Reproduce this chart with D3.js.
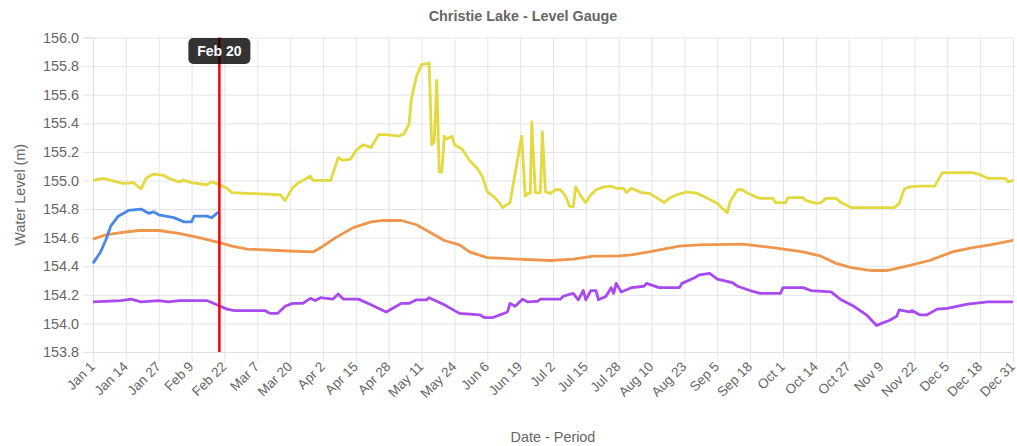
<!DOCTYPE html>
<html>
<head>
<meta charset="utf-8">
<script src="https://cdn.jsdelivr.net/npm/d3@7"></script>
<style>
  body { margin: 0; background: #fff; font-family: "Liberation Sans", Arial, sans-serif; }
  .grid line { stroke: #e5e5e5; }
  .grid path { display: none; }
</style>
</head>
<body>
<div id="chart"></div>
<script>
// 目盛りラベル（13日ごと）
var tickLabels = ["Jan 1","Jan 14","Jan 27","Feb 9","Feb 22","Mar 7","Mar 20","Apr 2","Apr 15","Apr 28",
  "May 11","May 24","Jun 6","Jun 19","Jul 2","Jul 15","Jul 28","Aug 10","Aug 23","Sep 5","Sep 18",
  "Oct 1","Oct 14","Oct 27","Nov 9","Nov 22","Dec 5","Dec 18","Dec 31"];
var tickStep = 13;
var levelTicks = [153.8, 154.0, 154.2, 154.4, 154.6, 154.8, 155.0, 155.2, 155.4, 155.6, 155.8, 156.0];

var markerDay = 50;
var markerLabel = "Feb 20";

// 各シリーズ（日番号, 水位）
var blueDay = [0,3,5,7,10,14,19,22,24,26,32,36,39,40,45,47,49,50];
var blueLevel = [154.42,154.50,154.58,154.68,154.75,154.79,154.80,154.77,154.78,154.76,154.74,154.71,154.71,154.75,154.75,154.74,154.77,154.78];

var orangeDay = [0,5,11,18,26,34,42,50,55,61,73,87,91,96,103,110,115,122,128,132,135,139,145,149,156,168,181,190,198,207,213,220,232,240,257,269,281,288,294,300,308,314,322,331,340,348,355,364];
var orangeLevel = [154.59,154.62,154.635,154.65,154.65,154.63,154.60,154.565,154.54,154.52,154.51,154.50,154.54,154.60,154.67,154.71,154.72,154.72,154.69,154.65,154.62,154.58,154.55,154.50,154.46,154.45,154.44,154.45,154.47,154.47,154.48,154.50,154.54,154.55,154.555,154.53,154.50,154.47,154.42,154.39,154.37,154.37,154.40,154.44,154.50,154.53,154.55,154.58];

var purpleDay = [0,11,15,19,26,30,34,45,49,53,56,68,70,73,76,79,83,86,88,90,95,97,99,105,110,116,120,122,125,128,132,133,139,142,145,153,155,158,161,164,165,167,170,172,176,177,185,186,190,192,194,195,197,199,200,203,205,206,207,209,213,218,219,224,232,233,238,240,244,247,253,255,260,264,272,273,281,284,292,296,301,306,310,312,315,318,319,323,324,327,330,334,338,346,354,364];
var purpleLevel = [154.15,154.16,154.17,154.15,154.16,154.15,154.16,154.16,154.13,154.10,154.09,154.09,154.07,154.07,154.12,154.14,154.14,154.175,154.16,154.18,154.17,154.205,154.17,154.17,154.13,154.08,154.12,154.14,154.14,154.165,154.165,154.18,154.13,154.10,154.07,154.06,154.04,154.04,154.06,154.08,154.14,154.12,154.17,154.15,154.155,154.17,154.17,154.19,154.21,154.165,154.23,154.165,154.23,154.23,154.165,154.19,154.25,154.21,154.28,154.22,154.25,154.26,154.28,154.25,154.25,154.28,154.32,154.34,154.35,154.31,154.285,154.26,154.23,154.21,154.21,154.25,154.25,154.23,154.22,154.165,154.12,154.06,153.985,154.0,154.02,154.05,154.095,154.08,154.09,154.06,154.06,154.10,154.105,154.135,154.15,154.15];

var yellowDay = [0,4,7,12,16,19,21,24,28,30,34,36,39,45,47,50,53,55,61,74,76,79,81,83,86,87,94,97,99,102,104,107,110,113,116,121,123,125,126,128,130,133,134,135,136,137,138,139,140,142,143,146,149,152,154,156,159,161,162,165,169.6,171,172,173,173.6,175,177,177.8,179,181,183,185,187,188.5,190,191,193,195,197,199,202,205,207,210,211,213,217,220,223,226,228,231,235,239,243,247,249,251,252,255,257,259,263,264,269,270,274,275,281,282,286,288,290,294,296,300,317,319,321,323,327,333,336,348,351,354,361,362,364];
var yellowLevel = [155.0,155.015,155.0,154.98,154.985,154.94,155.015,155.045,155.035,155.015,154.99,155.0,154.985,154.97,154.99,154.97,154.945,154.915,154.91,154.90,154.86,154.95,154.98,155.0,155.03,155.0,155.0,155.16,155.14,155.15,155.21,155.25,155.23,155.32,155.32,155.31,155.325,155.39,155.575,155.73,155.81,155.82,155.25,155.27,155.70,155.06,155.06,155.31,155.29,155.31,155.25,155.22,155.14,155.085,155.03,154.92,154.88,154.84,154.81,154.845,155.31,154.89,154.91,154.91,155.41,154.915,154.915,155.34,154.92,154.91,154.935,154.935,154.89,154.82,154.815,154.955,154.89,154.845,154.90,154.935,154.955,154.96,154.945,154.945,154.915,154.945,154.915,154.91,154.88,154.845,154.875,154.90,154.92,154.91,154.875,154.84,154.805,154.775,154.85,154.935,154.935,154.91,154.88,154.875,154.875,154.845,154.845,154.88,154.88,154.86,154.84,154.845,154.875,154.875,154.845,154.81,154.81,154.84,154.94,154.955,154.96,154.96,155.055,155.055,155.04,155.015,155.015,154.99,155.0];

var series = [
  {name: "yellow", day: yellowDay, level: yellowLevel, color: "#e3d940"},
  {name: "orange", day: orangeDay, level: orangeLevel, color: "#f0954c"},
  {name: "purple", day: purpleDay, level: purpleLevel, color: "#a84af0"},
  {name: "blue", day: blueDay, level: blueLevel, color: "#4a87e6"}
];

// 基本設定
var w = 1017, h = 446;
var plotL = 93, plotR = 1013, plotT = 37.5, plotB = 352;
var textColor = "#666";

var svg = d3.select("#chart").append("svg")
  .attr("width", w)
  .attr("height", h);

var x = d3.scaleLinear().domain([0, 364]).range([plotL, plotR]);
var y = d3.scaleLinear().domain([153.8, 156.0]).range([plotB, plotT]);

var tickDays = tickLabels.map(function(d, i) { return i * tickStep; });

// グリッド
svg.append("g")
  .attr("class", "grid")
  .attr("transform", "translate(" + plotL + ",0)")
  .call(d3.axisLeft(y).tickValues(levelTicks).tickSize(-(plotR - plotL)).tickSizeOuter(0).tickFormat(""));
svg.append("g")
  .attr("class", "grid")
  .attr("transform", "translate(0," + plotT + ")")
  .call(d3.axisBottom(x).tickValues(tickDays).tickSize(plotB - plotT).tickSizeOuter(0).tickFormat(""));

// y軸
var yAxis = svg.append("g")
  .attr("transform", "translate(" + plotL + ",0)")
  .call(d3.axisLeft(y).tickValues(levelTicks).tickSize(10).tickPadding(4).tickFormat(d3.format(".1f")));
yAxis.select(".domain").attr("stroke", "#e0e0e0");
yAxis.selectAll(".tick line").attr("stroke", "#e5e5e5");
yAxis.selectAll("text").attr("fill", textColor).style("font-size", "14.4px").style("font-family", "Liberation Sans, Arial, sans-serif");

// x軸
var xAxis = svg.append("g")
  .attr("transform", "translate(0," + plotB + ")")
  .call(d3.axisBottom(x).tickValues(tickDays).tickSize(10).tickFormat(function(d, i) { return tickLabels[i]; }));
xAxis.select(".domain").attr("stroke", "#e0e0e0");
xAxis.selectAll(".tick line").attr("stroke", "#e5e5e5");
xAxis.selectAll("text")
  .attr("fill", textColor)
  .style("font-size", "13.5px")
  .style("font-family", "Liberation Sans, Arial, sans-serif")
  .attr("text-anchor", "end")
  .attr("x", 0).attr("y", 0).attr("dy", "0.35em")
  .attr("transform", "translate(-1,12) rotate(-45)");

// 線
var line = d3.line()
  .x(function(d) { return x(d[0]); })
  .y(function(d) { return y(d[1]); });

series.forEach(function(s) {
  var pts = s.day.map(function(d, i) { return [d, s.level[i]]; });
  svg.append("path")
    .datum(pts)
    .attr("d", line)
    .attr("fill", "none")
    .attr("stroke", s.color)
    .attr("stroke-width", 2.8)
    .attr("stroke-linejoin", "round");
});

// 日付マーカー
svg.append("line")
  .attr("x1", x(markerDay)).attr("x2", x(markerDay))
  .attr("y1", plotT).attr("y2", plotB)
  .attr("stroke", "#ff0000")
  .attr("stroke-width", 2.5);

var tip = svg.append("g").attr("transform", "translate(" + x(markerDay) + "," + (plotT + 13.5) + ")");
tip.append("rect")
  .attr("x", -31).attr("y", -13).attr("width", 62).attr("height", 26)
  .attr("rx", 5)
  .attr("fill", "rgba(0,0,0,0.8)");
tip.append("text")
  .attr("text-anchor", "middle")
  .attr("dy", "0.35em")
  .attr("fill", "#fff")
  .style("font-size", "14px")
  .style("font-weight", "bold")
  .text(markerLabel);

// タイトル
svg.append("text")
  .attr("x", 523).attr("y", 21)
  .attr("text-anchor", "middle")
  .attr("fill", textColor)
  .style("font-size", "14.4px")
  .style("font-weight", "bold")
  .text("Christie Lake - Level Gauge");

svg.append("text")
  .attr("transform", "translate(25," + ((plotT + plotB) / 2) + ") rotate(-90)")
  .attr("text-anchor", "middle")
  .attr("fill", textColor)
  .style("font-size", "14.4px")
  .text("Water Level (m)");

svg.append("text")
  .attr("x", (plotL + plotR) / 2).attr("y", 442)
  .attr("text-anchor", "middle")
  .attr("fill", textColor)
  .style("font-size", "14.4px")
  .text("Date - Period");
</script>
</body>
</html>
